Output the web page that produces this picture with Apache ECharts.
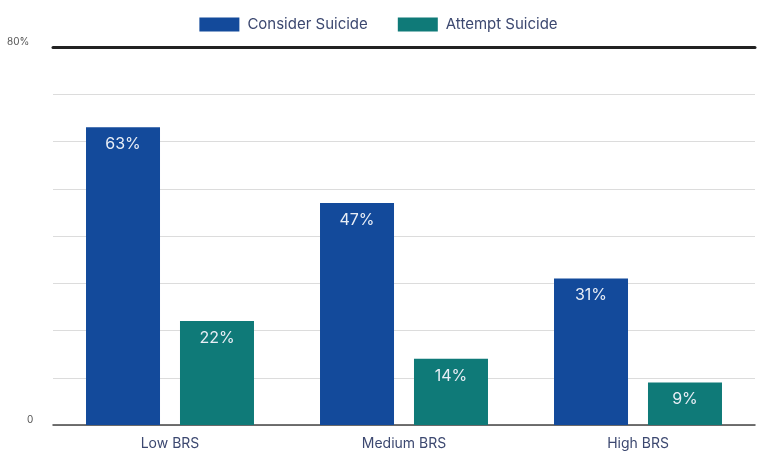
<!DOCTYPE html>
<html>
<head>
<meta charset="utf-8">
<script src="https://cdn.jsdelivr.net/npm/echarts@6/dist/echarts.min.js"></script>
<style>html,body{margin:0;padding:0;background:#fff;}#c{width:757px;height:455px;}</style>
</head>
<body>
<div id="c"></div>
<script>
const categories = ['Low BRS', 'Medium BRS', 'High BRS'];
const considerSuicide = [63, 47, 31];
const attemptSuicide = [22, 14, 9];
const seriesNames = ['Consider Suicide', 'Attempt Suicide'];
const yTicks = {0: '0', 80: '80%'};

const chart = echarts.init(document.getElementById('c'));
const labelStyle = {
  show: true, position: 'insideTop', distance: 9,
  formatter: p => p.value + '%', color: '#e9eef6',
  fontFamily: 'Inter', fontSize: 16, fontWeight: 400
};
chart.setOption({
  animation: false,
  textStyle: {fontFamily: 'Inter'},
  legend: {
    top: 12, left: 'center', itemWidth: 40, itemHeight: 14, itemGap: 30,
    icon: 'rect',
    textStyle: {color: '#3c4870', fontSize: 15, fontFamily: 'Inter', padding: [0, 0, 0, 3]},
    data: seriesNames
  },
  grid: {left: 53, right: 2, top: 47, bottom: 30},
  xAxis: [{
    type: 'category', data: categories,
    axisLine: {lineStyle: {color: '#444', width: 1.5}},
    axisTick: {show: false},
    axisLabel: {color: '#3c4870', fontSize: 14, margin: 12}
  }, {
    type: 'category', data: categories, position: 'top',
    axisLine: {lineStyle: {color: '#222', width: 3}},
    axisTick: {show: false}, axisLabel: {show: false}
  }],
  yAxis: {
    type: 'value', min: 0, max: 80, interval: 10,
    axisLine: {show: false}, axisTick: {show: false},
    splitLine: {lineStyle: {color: '#dcdcdc', width: 1}},
    axisLabel: {
      margin: 46, align: 'left', color: '#555', fontSize: 10, verticalAlign: 'bottom',
      formatter: v => v === 0 ? '{z|0}' : (yTicks[v] !== undefined ? yTicks[v] : ''),
      rich: {z: {padding: [0, 0, 0, 20], fontSize: 10, color: '#555'}}
    }
  },
  series: [{
    name: seriesNames[0], type: 'bar', data: considerSuicide,
    barWidth: 74, barGap: '27%',
    itemStyle: {color: '#134a9b'}, label: labelStyle
  }, {
    name: seriesNames[1], type: 'bar', data: attemptSuicide,
    barWidth: 74,
    itemStyle: {color: '#0f7a78'}, label: labelStyle
  }]
});
</script>
</body>
</html>
